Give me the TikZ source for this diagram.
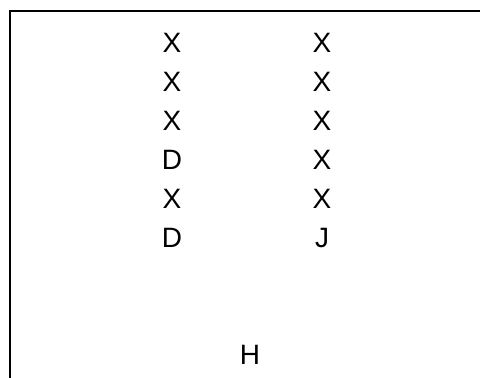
\documentclass[tikz,border=0pt]{standalone}
\usepackage{fontspec}
\setmainfont{Liberation Sans}
\begin{document}
\begin{tikzpicture}[x=1pt,y=-1pt,every node/.style={font=\fontsize{28}{32}\selectfont,inner sep=0pt}]
		\useasboundingbox(0,0)rectangle(480,378);
		\coordinate(B)at(10,378);
		\coordinate(C)at(10,11);
		\coordinate(E)at(480,11);
		\draw[line width=2pt](B)--(C)--(E);
		\foreach\t[count=\i]in{X,X,X,D,X,D}{\node(L\i)at(172,{4+39*\i}){\t};}
		\foreach\t[count=\i]in{X,X,X,X,X,J}{\node(R\i)at(322,{4+39*\i}){\t};}
		\node(H)at(250,355){H};
\end{tikzpicture}
\end{document}
